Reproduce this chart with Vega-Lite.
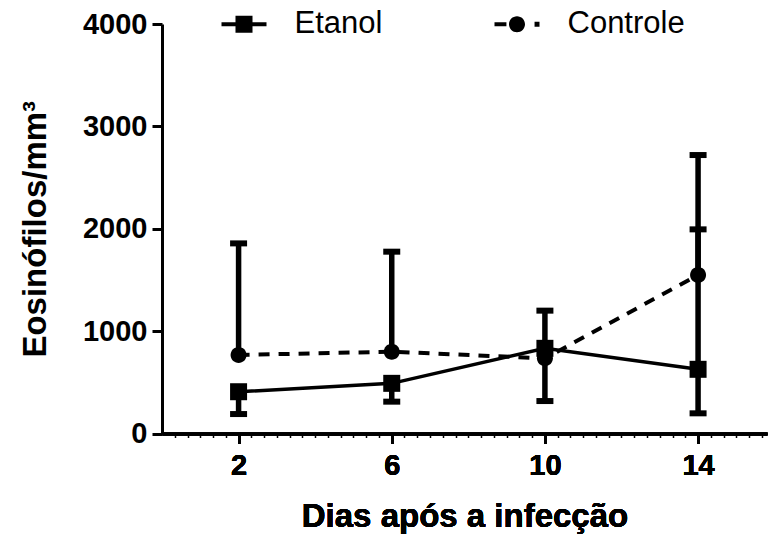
{
  "$schema": "https://vega.github.io/schema/vega-lite/v6.json",
  "autosize": "none",
  "width": 605,
  "height": 409.5,
  "padding": {"left": 162, "top": 24, "right": 1, "bottom": 105.5},
  "background": "white",
  "config": {
    "view": {"stroke": null},
    "font": "Liberation Sans",
    "axis": {
      "domainColor": "black",
      "domainWidth": 3,
      "tickColor": "black",
      "tickWidth": 3,
      "tickSize": 10,
      "grid": false,
      "labelFont": "Liberation Sans",
      "labelFontWeight": "bold",
      "labelFontSize": 29,
      "labelColor": "black",
      "titleFont": "Liberation Sans",
      "titleFontWeight": "bold",
      "titleFontSize": 33,
      "titleColor": "black"
    }
  },
  "datasets": {
    "stats": [
      {"series": "Etanol", "dia": 2, "mean": 408, "lo": 190, "hi": 408},
      {"series": "Etanol", "dia": 6, "mean": 490, "lo": 311, "hi": 490},
      {"series": "Etanol", "dia": 10, "mean": 832, "lo": 832, "hi": 1200},
      {"series": "Etanol", "dia": 14, "mean": 627, "lo": 197, "hi": 1994},
      {"series": "Controle", "dia": 2, "mean": 767, "lo": 767, "hi": 1857},
      {"series": "Controle", "dia": 6, "mean": 799, "lo": 799, "hi": 1776},
      {"series": "Controle", "dia": 10, "mean": 734, "lo": 317, "hi": 734},
      {"series": "Controle", "dia": 14, "mean": 1548, "lo": 1548, "hi": 2720}
    ]
  },
  "data": {"name": "stats"},
  "encoding": {
    "x": {
      "field": "dia",
      "type": "quantitative",
      "scale": {"domain": [0, 15.8], "nice": false, "zero": false},
      "axis": {
        "orient": "bottom",
        "values": [2, 6, 10, 14],
        "title": "Dias após a infecção",
        "labelPadding": 8,
        "titlePadding": 20
      }
    }
  },
  "layer": [
    {
      "mark": {"type": "tick", "opacity": 0},
      "encoding": {
        "x": {
          "field": "dia",
          "type": "quantitative",
          "axis": {
            "orient": "bottom",
            "values": [0.333, 0.667, 1, 1.333, 1.667, 2.333, 2.667, 3, 3.333, 3.667, 4, 4.333, 4.667, 5, 5.333, 5.667, 6.333, 6.667, 7, 7.333, 7.667, 8, 8.333, 8.667, 9, 9.333, 9.667, 10.333, 10.667, 11, 11.333, 11.667, 12, 12.333, 12.667, 13, 13.333, 13.667, 14.333, 14.667, 15, 15.333, 15.667],
            "labels": false,
            "domain": false,
            "title": null,
            "tickSize": 4,
            "tickWidth": 1.5
          }
        },
        "y": {"field": "mean", "type": "quantitative"}
      }
    },
    {
      "mark": {"type": "rule", "color": "black", "strokeWidth": 5.5},
      "encoding": {
        "y": {
          "field": "lo",
          "type": "quantitative",
          "scale": {"domain": [0, 4000], "nice": false},
          "axis": {
            "values": [0, 1000, 2000, 3000, 4000],
            "format": "d",
            "title": "Eosinófilos/mm³",
            "labelPadding": 5,
            "titlePadding": 30
          }
        },
        "y2": {"field": "hi"}
      }
    },
    {
      "transform": [
        {"fold": ["lo", "hi"], "as": ["end", "value"]},
        {"filter": "datum.value != datum.mean"}
      ],
      "mark": {"type": "tick", "orient": "horizontal", "color": "black", "size": 17, "thickness": 6, "opacity": 1},
      "encoding": {
        "y": {"field": "value", "type": "quantitative"}
      }
    },
    {
      "transform": [{"filter": "datum.series === 'Etanol'"}],
      "mark": {"type": "line", "color": "black", "strokeWidth": 3.5, "strokeCap": "butt"},
      "encoding": {
        "y": {"field": "mean", "type": "quantitative"}
      }
    },
    {
      "transform": [{"filter": "datum.series === 'Controle'"}],
      "mark": {"type": "line", "color": "black", "strokeWidth": 4, "strokeCap": "butt", "strokeDash": [11, 9]},
      "encoding": {
        "y": {"field": "mean", "type": "quantitative"}
      }
    },
    {
      "mark": {"type": "point", "filled": true, "opacity": 1, "color": "black", "size": 289, "strokeWidth": 0},
      "encoding": {
        "y": {"field": "mean", "type": "quantitative"},
        "shape": {
          "field": "series",
          "type": "nominal",
          "scale": {
            "domain": ["Etanol", "Controle"],
            "range": ["M-1,-1H1V1H-1Z", "M-0.94,0A0.94,0.94,0,1,0,0.94,0A0.94,0.94,0,1,0,-0.94,0Z"]
          },
          "legend": null
        }
      }
    },
    {
      "mark": {"type": "point", "filled": true, "opacity": 0, "color": "black", "size": 2025, "strokeWidth": 0},
      "encoding": {
        "y": {"field": "mean", "type": "quantitative"},
        "shape": {
          "field": "series",
          "type": "nominal",
          "scale": {
            "domain": ["Etanol", "Controle"],
            "range": [
              "M-1,-0.089H1V0.089H-1Z M-0.378,-0.378H0.378V0.378H-0.378Z",
              "M-1,-0.089H-0.47V0.089H-1Z M-0.356,0A0.356,0.356,0,1,0,0.356,0A0.356,0.356,0,1,0,-0.356,0Z M0.78,-0.11H1V0.11H0.78Z"
            ]
          },
          "legend": {
            "title": null,
            "orient": "none",
            "direction": "horizontal",
            "legendX": 59.5,
            "legendY": -22.5,
            "symbolSize": 2025,
            "symbolFillColor": "black",
            "symbolStrokeWidth": 0,
            "symbolOpacity": 1,
            "labelFont": "Liberation Sans",
            "labelFontSize": 31,
            "labelColor": "black",
            "labelOffset": 28,
            "columnPadding": 112
          }
        }
      }
    }
  ],
  "resolve": {"axis": {"x": "independent"}, "scale": {"shape": "independent"}}
}
